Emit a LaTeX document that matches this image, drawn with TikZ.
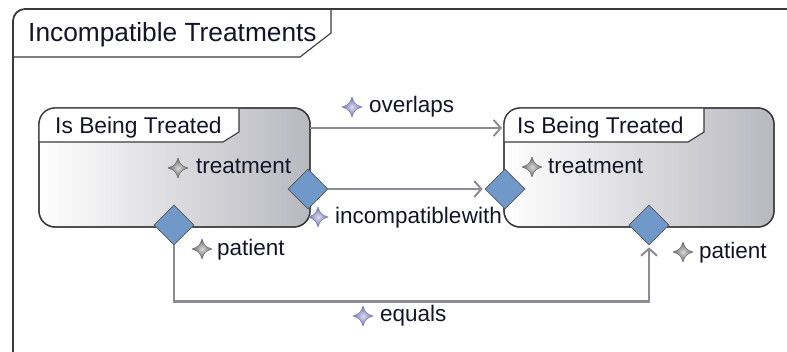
\documentclass[tikz,border=0pt]{standalone}
\usepackage{fontspec}
\setmainfont{Liberation Sans}
\usetikzlibrary{shapes.geometric,arrows.meta,calc}

\definecolor{framec}{RGB}{58,58,58}
\definecolor{boxgray}{RGB}{184,184,192}
\definecolor{diafill}{RGB}{112,152,200}
\definecolor{linkc}{RGB}{140,140,150}
\definecolor{txt}{RGB}{20,20,40}
\definecolor{relstarc}{RGB}{112,112,180}
\definecolor{attstarc}{RGB}{100,100,100}

\tikzset{
  entity/.style={draw=framec, line width=1.3pt, rounded corners=16pt,
    left color=white, right color=boxgray, minimum width=271pt,
    minimum height=119pt, inner sep=0pt, outer sep=0pt},
  entityborder/.style={draw=framec, line width=1.3pt, rounded corners=16pt},
  tabline/.style={draw=framec, line width=1.1pt},
  port/.style={diamond, aspect=1, draw=framec!85, line width=0.8pt,
    fill=diafill, minimum size=40pt, inner sep=0pt},
  link/.style={draw=linkc, line width=2.6pt,
    -{Straight Barb[length=7pt,width=16pt,line width=2pt]}, shorten >=2pt},
  lbl/.style={anchor=base west, inner sep=0pt, text=txt,
    font=\fontsize{22.5}{26}\selectfont},
  ttl/.style={anchor=base west, inner sep=0pt, text=txt,
    font=\fontsize{22.8}{27}\selectfont},
  frametitle/.style={anchor=base west, inner sep=0pt, text=txt,
    font=\fontsize{26.3}{30}\selectfont},
  pics/fourstar/.style={code={
    \shade[inner color=#1!25, outer color=#1, draw=#1!90!black, line width=0.3pt]
      (0,-10) .. controls (2.8,-2.8) .. (10,0)
              .. controls (2.8,2.8) .. (0,10)
              .. controls (-2.8,2.8) .. (-10,0)
              .. controls (-2.8,-2.8) .. cycle;
  }}
}

\begin{document}
\begin{tikzpicture}[x=1pt,y=-1pt]
  \useasboundingbox (0,0) rectangle (787,351);
  \clip (0,0) rectangle (787,351);

  % outer frame with its title tab
  \draw[framec, line width=1.8pt, rounded corners=12pt] (13,9) rectangle (840,390);
  \draw[tabline] (13,57) -- (300,57) -- (331,33) -- (331,9);
  \node[frametitle] (ftitle) at (28,41) {Incompatible Treatments};

  % the two entity boxes
  \node[entity] (L) at (174.5,167.5) {};
  \node[entity, minimum width=270pt] (R) at (639,167.5) {};

  % white title tabs inside the boxes
  \foreach \b in {L,R}{
    \begin{scope}
      \clip[rounded corners=16pt] (\b.north west) rectangle (\b.south east);
      \fill[white] (\b.north west) -- ++(200,0) -- ++(0,24) -- ++(-16,10)
        -- ($(\b.north west)+(0,34)$) -- cycle;
    \end{scope}
    \draw[tabline] ($(\b.north west)+(0,34)$) -- ++(184,0) -- ++(16,-10) -- ++(0,-24);
    \draw[entityborder] (\b.north west) rectangle (\b.south east);
  }
  \node[ttl] (Lt) at (55,133) {Is Being Treated};
  \node[ttl] (Rt) at (517,133) {Is Being Treated};

  % connection ports
  \node[port] (Lr) at (308,189) {};
  \node[port] (Lb) at (174,225) {};
  \node[port] (Rl) at (505,189) {};
  \node[port] (Rb) at (649,225) {};

  % connectors
  \draw[link] ($(L.north east)+(0,20)$) -- ($(R.north west)+(0,20)$);
  \draw[link] (Lr.east) -- (Rl.west);
  \draw[link] (Lb.south) -- ++(0,56) -| (Rb.south);

  % attribute and relation labels
  \pic at (352,107) {fourstar=relstarc};
  \node[lbl] (ovl) at (369,112) {overlaps};
  \pic at (318,217) {fourstar=relstarc};
  \node[lbl] (inc) at (335,223) {incompatible\hspace{0.5pt}with};
  \pic at (363,316) {fourstar=relstarc};
  \node[lbl] (eq) at (380,321) {equals};

  \pic at (178,168) {fourstar=attstarc};
  \node[lbl] (trL) at (196,173) {treatment};
  \pic at (202,249) {fourstar=attstarc};
  \node[lbl] (paL) at (217,255) {patient};
  \pic at (532,167) {fourstar=attstarc};
  \node[lbl] (trR) at (548,173) {treatment};
  \pic at (683,252) {fourstar=attstarc};
  \node[lbl] (paR) at (699,258) {patient};
\end{tikzpicture}
\end{document}
